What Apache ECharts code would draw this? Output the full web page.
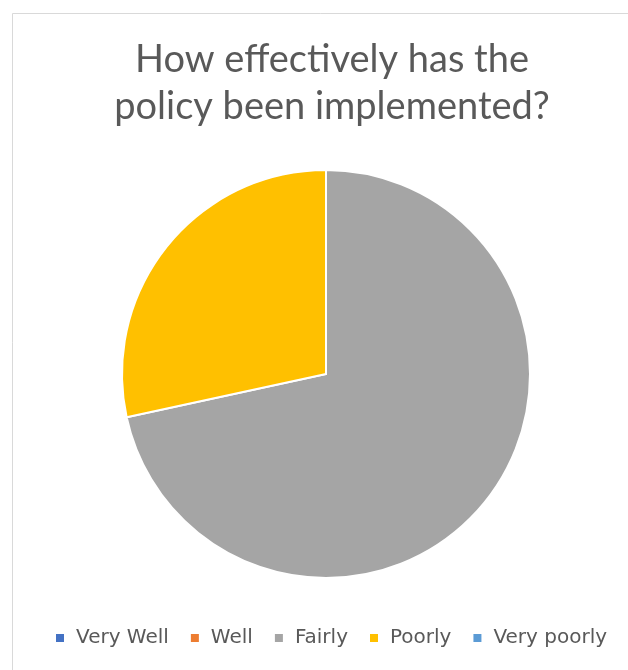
<!DOCTYPE html>
<html>
<head>
<meta charset="utf-8">
<script src="https://cdn.jsdelivr.net/npm/echarts@6/dist/echarts.min.js"></script>
<style>
html,body{margin:0;padding:0;background:#fff;}
#chart{width:628px;height:670px;}
</style>
</head>
<body>
<div id="chart"></div>
<script>
const categories = ['Very Well', 'Well', 'Fairly', 'Poorly', 'Very poorly'];
const values = [0, 0, 71.6, 28.4, 0];
const colors = ['#4472C4', '#ED7D31', '#A5A5A5', '#FFC000', '#5B9BD5'];
const titleText = 'How effectively has the\npolicy been implemented?';

const chart = echarts.init(document.getElementById('chart'));
chart.setOption({
  backgroundColor: '#ffffff',
  animation: false,
  graphic: [{
    type: 'rect',
    shape: { x: 12.5, y: 13.5, width: 700, height: 700 },
    style: { fill: 'none', stroke: '#D9D9D9', lineWidth: 1 },
    silent: true
  }],
  title: {
    text: titleText,
    left: 327,
    top: 31,
    textAlign: 'center',
    textStyle: {
      fontFamily: 'Lato',
      fontWeight: 'normal',
      fontSize: 38,
      lineHeight: 47,
      color: '#595959'
    }
  },
  legend: {
    data: categories,
    left: 51,
    top: 623,
    icon: 'rect',
    itemWidth: 8,
    itemHeight: 8,
    itemGap: 22,
    itemStyle: { borderWidth: 0 },
    textStyle: {
      fontFamily: 'DejaVu Sans',
      fontSize: 20,
      color: '#595959',
      padding: [0, 0, 0, 7]
    }
  },
  series: [{
    type: 'pie',
    center: [326, 374],
    radius: [0, 204],
    startAngle: 90,
    clockwise: true,
    label: { show: false },
    labelLine: { show: false },
    itemStyle: { borderColor: '#ffffff', borderWidth: 2 },
    emphasis: { disabled: true },
    data: categories.map((c, i) => ({ name: c, value: values[i], itemStyle: { color: colors[i] } }))
  }]
});
</script>
</body>
</html>
